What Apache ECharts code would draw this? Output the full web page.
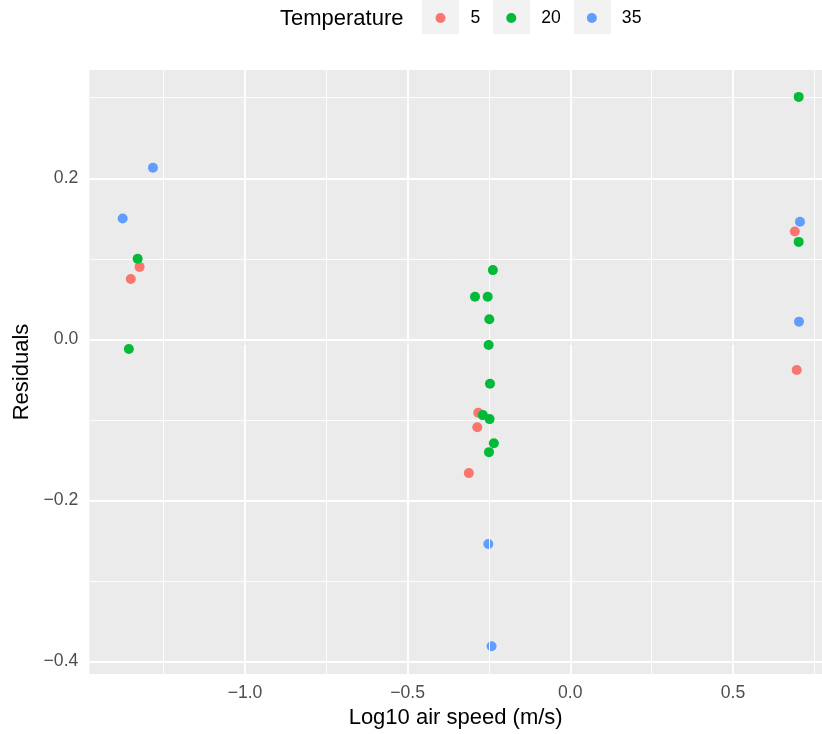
<!DOCTYPE html>
<html>
<head>
<meta charset="utf-8">
<script src="https://cdn.jsdelivr.net/npm/echarts@6/dist/echarts.min.js"></script>
<style>
html,body{margin:0;padding:0;background:#fff;}
#chart{width:822px;height:734px;}
</style>
</head>
<body>
<div id="chart"></div>
<script>
// ---- data ----
const temperatures = ['5', '20', '35'];
const temp5_x  = [-1.324, -1.351, -0.283, -0.286, -0.312, 0.690, 0.696];
const temp5_y  = [0.090, 0.075, -0.091, -0.109, -0.166, 0.134, -0.038];
const temp20_x = [-1.330, -1.357, -0.238, -0.293, -0.254, -0.249, -0.251, -0.247, -0.269, -0.248, -0.235, -0.250, 0.702, 0.702];
const temp20_y = [0.100, -0.012, 0.086, 0.053, 0.053, 0.025, -0.007, -0.055, -0.094, -0.099, -0.129, -0.140, 0.301, 0.121];
const temp35_x = [-1.283, -1.376, -0.252, -0.242, 0.706, 0.703];
const temp35_y = [0.213, 0.150, -0.254, -0.381, 0.146, 0.022];
const xLimits = [-1.4786, 0.7737];
const yLimits = [-0.4154, 0.3344];
const xMajor = [-1.0, -0.5, 0.0, 0.5];
const xMinor = [-1.25, -0.75, -0.25, 0.25, 0.75];
const yMajor = [-0.4, -0.2, 0.0, 0.2];
const yMinor = [-0.3, -0.1, 0.1, 0.3];

const colors = ['#F8766D', '#00BA38', '#619CFF'];
const FONT = "'Liberation Sans', Arial, Helvetica, sans-serif";
const zip = (xs, ys) => xs.map((x, i) => [x, ys[i]]);
const fmt = v => (v < 0 ? '\u2212' : '') + Math.abs(v).toFixed(1);

const chart = echarts.init(document.getElementById('chart'), null, {renderer: 'canvas'});

const gridLines = (vals, axis, width) => ({
  type: 'scatter', data: [], silent: true, z: 1,
  markLine: {
    silent: true, symbol: 'none', animation: false,
    label: {show: false},
    lineStyle: {color: '#FFFFFF', width: width, type: 'solid'},
    emphasis: {disabled: true},
    data: vals.map(v => ({[axis]: v}))
  }
});

const option = {
  animation: false,
  textStyle: {fontFamily: FONT},
  title: {
    text: 'Temperature', left: 280, top: 8, padding: 0,
    textStyle: {fontFamily: FONT, fontSize: 22, fontWeight: 'normal', color: '#000000'}
  },
  legend: {
    data: temperatures, left: 435.5, top: 9, padding: 0,
    itemWidth: 10, itemHeight: 10, itemGap: 26, icon: 'circle',
    textStyle: {fontFamily: FONT, fontSize: 17.6, color: '#000000', padding: [0, 0, 0, 20]}
  },
  graphic: [422, 493, 574].map(x => ({
    type: 'rect', left: x, top: 0, z: -10, silent: true,
    shape: {width: 37, height: 34}, style: {fill: '#F2F2F2'}
  })),
  grid: {
    left: 89.3, top: 70, width: 732.7, height: 604.3,
    show: true, backgroundColor: '#EBEBEB', borderWidth: 0
  },
  xAxis: {
    type: 'value', min: xLimits[0], max: xLimits[1],
    name: 'Log10 air speed (m/s)', nameLocation: 'middle', nameGap: 33,
    nameTextStyle: {fontFamily: FONT, fontSize: 22, color: '#000000'},
    axisLine: {show: false},
    axisTick: {show: true, length: 5.5, customValues: xMajor, lineStyle: {color: '#333333', width: 1.5}},
    axisLabel: {customValues: xMajor, formatter: fmt, margin: 10, fontFamily: FONT, fontSize: 17.6, color: '#4D4D4D'},
    splitLine: {show: false}
  },
  yAxis: {
    type: 'value', min: yLimits[0], max: yLimits[1],
    name: 'Residuals', nameLocation: 'middle', nameGap: 56, nameRotate: 90,
    nameTextStyle: {fontFamily: FONT, fontSize: 22, color: '#000000'},
    axisLine: {show: false},
    axisTick: {show: true, length: 5.5, customValues: yMajor, lineStyle: {color: '#333333', width: 1.5}},
    axisLabel: {customValues: yMajor, formatter: fmt, margin: 11, fontFamily: FONT, fontSize: 17.6, color: '#4D4D4D'},
    splitLine: {show: false}
  },
  series: [
    gridLines(xMinor, 'xAxis', 0.9),
    gridLines(yMinor, 'yAxis', 0.9),
    gridLines(xMajor, 'xAxis', 1.8),
    gridLines(yMajor, 'yAxis', 1.8),
    {name: '35', type: 'scatter', z: 3, symbolSize: 10, itemStyle: {color: colors[2], opacity: 1}, data: zip(temp35_x, temp35_y)},
    {name: '5', type: 'scatter', z: 4, symbolSize: 10, itemStyle: {color: colors[0], opacity: 1}, data: zip(temp5_x, temp5_y)},
    {name: '20', type: 'scatter', z: 5, symbolSize: 10, itemStyle: {color: colors[1], opacity: 1}, data: zip(temp20_x, temp20_y)}
  ]
};
chart.setOption(option);
</script>
</body>
</html>
